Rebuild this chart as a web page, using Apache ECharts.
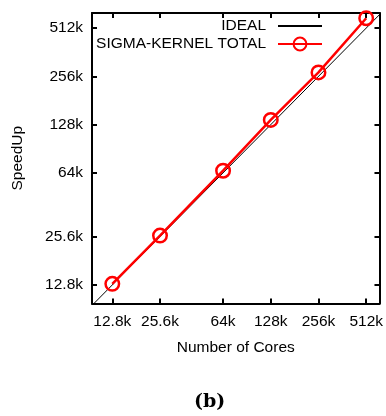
<!DOCTYPE html>
<html><head><meta charset="utf-8">
<script src="https://cdn.jsdelivr.net/npm/echarts@6/dist/echarts.min.js"></script>
<style>html,body{margin:0;padding:0;background:#fff}#c{width:386px;height:416px}</style>
</head><body><div id="c"></div>
<script>
const cores = [12800, 25600, 64000, 128000, 256000, 512000];
const speedup = [13000, 26000, 66000, 137000, 271000, 590000];
const idealX = [9000, 700000];
const tickValues = [12800, 25600, 64000, 128000, 256000, 512000];
const tickLabels = ['12.8k', '25.6k', '64k', '128k', '256k', '512k'];
const xRange = [9530, 621000];
const yRange = [9800, 636000];

const FONT = 'Liberation Sans';
const FS = 15.5;
function fmt(v) {
  const i = tickValues.findIndex(t => Math.abs(t - v) / t < 1e-6);
  return i >= 0 ? tickLabels[i] : '';
}
function axisBase(show) {
  return {
    type: 'log', logBase: 2,
    axisLine: { show: true, lineStyle: { color: '#000', width: 2 } },
    axisTick: { show: true, inside: true, length: 5, lineStyle: { color: '#000', width: 2 }, customValues: tickValues },
    axisLabel: { show: show, color: '#000', fontFamily: FONT, fontSize: FS, customValues: tickValues, formatter: fmt },
    splitLine: { show: false },
    minorTick: { show: false }
  };
}
const chart = echarts.init(document.getElementById('c'), null, { renderer: 'canvas' });
chart.setOption({
  animation: false,
  backgroundColor: '#fff',
  grid: { left: 92, top: 13, width: 291, height: 290.5, containLabel: false },
  xAxis: [
    Object.assign(axisBase(true), { position: 'bottom', min: xRange[0], max: xRange[1],
      name: 'Number of Cores', nameLocation: 'middle', nameGap: 36,
      nameTextStyle: { color: '#000', fontFamily: FONT, fontSize: FS },
      axisLabel: Object.assign(axisBase(true).axisLabel, { margin: 10 }) }),
    Object.assign(axisBase(false), { position: 'top', min: xRange[0], max: xRange[1] })
  ],
  yAxis: [
    Object.assign(axisBase(true), { position: 'left', min: yRange[0], max: yRange[1],
      name: 'SpeedUp', nameLocation: 'middle', nameGap: 66,
      nameTextStyle: { color: '#000', fontFamily: FONT, fontSize: FS },
      axisLabel: Object.assign(axisBase(true).axisLabel, { margin: 9 }) }),
    Object.assign(axisBase(false), { position: 'right', min: yRange[0], max: yRange[1] })
  ],
  legend: {
    orient: 'vertical', right: 58, top: 13, align: 'right',
    itemWidth: 44, itemHeight: 16, itemGap: 2,
    textStyle: { color: '#000', fontFamily: FONT, fontSize: FS, padding: [0, 7, 0, 0] },
    data: [
      { name: 'IDEAL', itemStyle: { opacity: 0 } },
      { name: 'SIGMA-KERNEL TOTAL' }
    ]
  },
  series: [
    { name: 'IDEAL', type: 'line', xAxisIndex: 0, yAxisIndex: 0, symbol: 'none', clip: true,
      data: idealX.map(v => [v, v]), lineStyle: { color: '#000', width: 1 }, itemStyle: { color: '#000' } },
    { name: 'SIGMA-KERNEL TOTAL', type: 'line', xAxisIndex: 0, yAxisIndex: 0, clip: false,
      data: cores.map((c, i) => [c, speedup[i]]),
      symbol: 'circle', symbolSize: 13.5,
      lineStyle: { color: '#ff0000', width: 2.5 },
      itemStyle: { color: 'rgba(0,0,0,0)', borderColor: '#ff0000', borderWidth: 2.5 } }
  ],
  graphic: [
    { type: 'text', left: 194, top: 393, style: { text: '(b)', fontFamily: 'DejaVu Serif', fontWeight: 'bold', fontSize: 19, fill: '#000' } }
  ]
});
</script></body></html>
